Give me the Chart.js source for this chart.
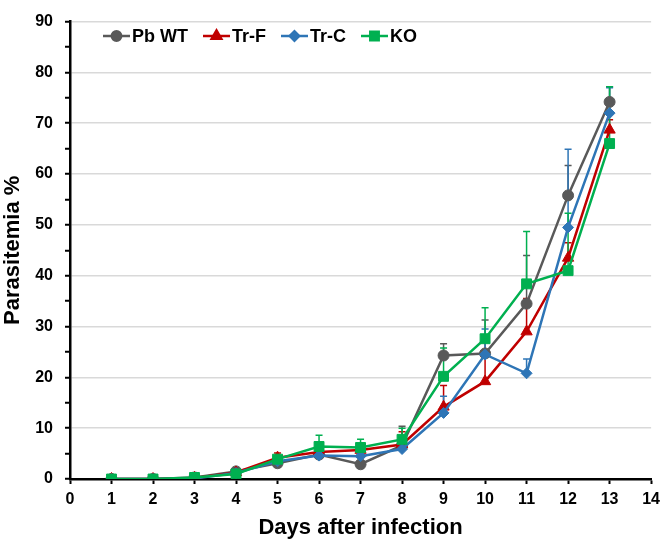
<!DOCTYPE html>
<html>
<head>
<meta charset="utf-8">
<script src="https://cdn.jsdelivr.net/npm/chart.js@4"></script>
<style>
  body { margin: 0; background: #fff; }
  canvas { display: block; }
</style>
</head>
<body>
<canvas id="chart" width="666" height="541"></canvas>
<script>
const days = [1, 2, 3, 4, 5, 6, 7, 8, 9, 10, 11, 12, 13];
const seriesNames = ["Pb WT", "Tr-F", "Tr-C", "KO"];

const pbWT = [0, 0, 0.3, 1.5, 3.1, 4.8, 2.9, 6.6, 24.3, 24.7, 34.5, 55.8, 74.2];
const trF = [0, 0, 0.2, 1.3, 4.2, 5.3, 5.7, 6.8, 14.2, 19.2, 29.0, 43.5, 68.7];
const trC = [0, 0, 0.1, 1.2, 3.5, 4.6, 4.5, 5.9, 13.0, 24.5, 20.8, 49.5, 72.0];
const ko = [0, 0, 0.3, 1.0, 3.9, 6.4, 6.2, 7.8, 20.2, 27.6, 38.4, 41.0, 66.0];

// upper error bars (SD)
const pbWTErr = [0, 0, 0.2, 0.3, 0.5, 0.6, 0.5, 3.8, 2.3, 6.6, 9.5, 5.9, 3.0];
const trFErr = [0, 0, 0.1, 0.3, 0.9, 0.6, 0.6, 2.5, 4.2, 5.3, 6.5, 3.0, 2.0];
const trCErr = [0, 0, 0.1, 0.3, 0.5, 0.5, 0.6, 0.8, 3.3, 5.0, 2.8, 15.4, 5.0];
const koErr = [0, 0, 0.2, 0.3, 0.6, 2.2, 1.6, 2.2, 5.6, 6.1, 10.3, 11.3, 11.2];

const colors = ["#595959", "#C00000", "#2E75B6", "#00B050"];
const markers = ["circle", "triangle", "rectRot", "rect"];
const markerSizes = [5.5, 6.5, 5.5, 7];

const FONT = "'Liberation Sans', Arial, sans-serif";

function points(values) {
  return days.map((d, i) => ({ x: d, y: values[i] }));
}

const allValues = [pbWT, trF, trC, ko];
const allErrors = [pbWTErr, trFErr, trCErr, koErr];

const datasets = seriesNames.map((name, i) => ({
  label: name,
  data: points(allValues[i]),
  errors: allErrors[i],
  borderColor: colors[i],
  backgroundColor: colors[i],
  borderWidth: 2.5,
  pointStyle: markers[i],
  pointRadius: markerSizes[i],
  pointBorderWidth: 1,
  pointBackgroundColor: colors[i],
  pointBorderColor: colors[i],
  order: seriesNames.length - i,
  tension: 0
}));

const errorBarPlugin = {
  id: "errorBars",
  beforeDatasetsDraw(chart) {
    const ctx = chart.ctx;
    const yScale = chart.scales.y;
    ctx.save();
    chart.data.datasets.forEach((ds, di) => {
      const meta = chart.getDatasetMeta(di);
      meta.data.forEach((pt, i) => {
        const err = ds.errors[i];
        if (!err) return;
        const top = yScale.getPixelForValue(ds.data[i].y + err);
        ctx.strokeStyle = ds.borderColor;
        ctx.lineWidth = 1.5;
        ctx.beginPath();
        ctx.moveTo(pt.x, pt.y);
        ctx.lineTo(pt.x, top);
        ctx.moveTo(pt.x - 3.5, top);
        ctx.lineTo(pt.x + 3.5, top);
        ctx.stroke();
      });
    });
    ctx.restore();
  }
};

const legendPlugin = {
  id: "insideLegend",
  afterDraw(chart) {
    const ctx = chart.ctx;
    let x = 103;
    const y = 36;
    ctx.save();
    ctx.font = "bold 18px " + FONT;
    ctx.textBaseline = "middle";
    chart.data.datasets.forEach((ds) => {
      ctx.strokeStyle = ds.borderColor;
      ctx.lineWidth = 2.5;
      ctx.beginPath();
      ctx.moveTo(x, y);
      ctx.lineTo(x + 27, y);
      ctx.stroke();
      ctx.fillStyle = ds.borderColor;
      Chart.helpers.drawPoint(ctx, {
        pointStyle: ds.pointStyle,
        radius: ds.pointRadius * 0.85,
        borderWidth: 1,
        rotation: 0
      }, x + 13.5, y);
      ctx.fill();
      ctx.fillStyle = "#000";
      ctx.fillText(ds.label, x + 29, y + 1);
      x += 29 + ctx.measureText(ds.label).width + 15;
    });
    ctx.restore();
  }
};

new Chart(document.getElementById("chart"), {
  type: "line",
  data: { datasets: datasets },
  plugins: [errorBarPlugin, legendPlugin],
  options: {
    responsive: false,
    animation: false,
    events: [],
    layout: { padding: { top: 7, right: 10, left: 0, bottom: 0 } },
    plugins: {
      legend: { display: false },
      tooltip: { enabled: false }
    },
    scales: {
      x: {
        type: "linear",
        min: 0,
        max: 14,
        afterFit(scale) { scale.height = 62; },
        ticks: {
          stepSize: 1,
          padding: 6,
          color: "#000",
          font: { family: FONT, size: 16, weight: "bold" }
        },
        grid: {
          drawOnChartArea: false,
          tickLength: 5,
          tickColor: "#000",
          tickWidth: 2
        },
        border: { color: "#000", width: 2.5 },
        title: {
          display: true,
          text: "Days after infection",
          color: "#000",
          padding: 0,
          font: { family: FONT, size: 22, weight: "bold" }
        }
      },
      y: {
        min: 0,
        max: 90,
        afterFit(scale) { scale.width = 70; },
        ticks: {
          stepSize: 5,
          padding: 12,
          color: "#000",
          font: { family: FONT, size: 16, weight: "bold" },
          callback: (v) => (v % 10 === 0 ? v : "")
        },
        grid: {
          color: (c) => (c.tick && c.tick.value % 10 === 0 ? "#d9d9d9" : "rgba(0,0,0,0)"),
          lineWidth: 1.5,
          tickLength: 5,
          tickColor: "#000",
          tickWidth: 2
        },
        border: { color: "#000", width: 2.5 },
        title: {
          display: true,
          text: "Parasitemia %",
          color: "#000",
          padding: 0,
          font: { family: FONT, size: 22, weight: "bold" }
        }
      }
    }
  }
});
</script>
</body>
</html>
